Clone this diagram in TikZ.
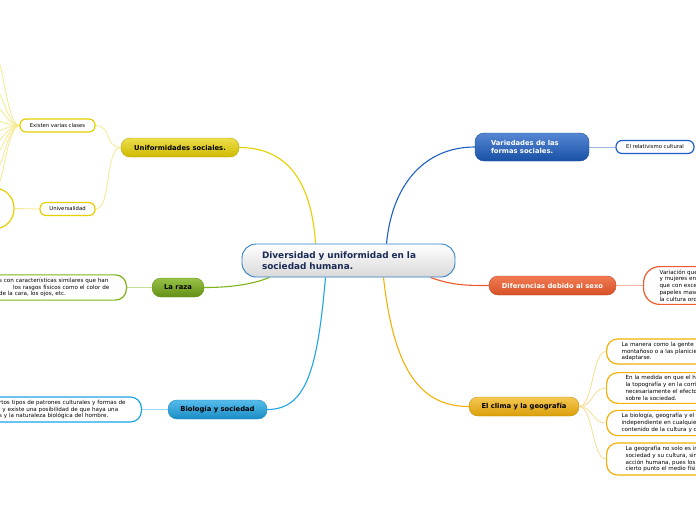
\documentclass[tikz,border=0pt]{standalone}
\usepackage{fontspec}
\setmainfont{DejaVu Sans}
\usetikzlibrary{positioning, backgrounds}
\definecolor{mmYellow}{HTML}{E6CF00}
\definecolor{mmGreen}{HTML}{7DB31A}
\definecolor{mmSky}{HTML}{1EA5E6}
\definecolor{mmBlue}{HTML}{1D5FC4}
\definecolor{mmRed}{HTML}{EE5A2A}
\definecolor{mmAmber}{HTML}{F2B10A}
\definecolor{mmNavy}{HTML}{1B2B55}
\definecolor{mmEdge}{HTML}{2E7FC6}

\begin{document}
\begin{tikzpicture}[
  x=1pt, y=-1pt,
  topic/.style={rounded corners=9pt, minimum height=19pt, inner sep=0pt,
                font=\bfseries\fontsize{6.8}{8.4}\selectfont, align=left},
  leaf/.style={draw=#1, fill=white, line width=1.2pt, rounded corners=6pt,
               minimum height=13pt, inner sep=0pt, font=\fontsize{5.3}{6.5}\selectfont},
  note/.style={draw=#1, fill=white, line width=1.2pt, rounded corners=11pt,
               inner ysep=3pt, align=left, font=\fontsize{5.6}{6.8}\selectfont},
  branch/.style={draw=#1, line width=1.1pt},
  twig/.style={draw=#1!45, line width=0.8pt},
]
  \useasboundingbox (0,0) rectangle (696,520);
  \clip (0,0) rectangle (696,520);

  % central topic
  \node[draw=mmEdge, line width=0.9pt, rounded corners=14pt, top color=white,
        bottom color=gray!30, minimum width=213pt, minimum height=33pt,
        inner xsep=20pt, text width=173pt, align=left, text=mmNavy,
        font=\bfseries\fontsize{8.9}{11}\selectfont]
        (cent) at (348.5,260.5) {Diversidad y uniformidad en la\\sociedad humana.};

  % main topics
  \node[topic, draw=mmYellow!80!black, top color=mmYellow!70, bottom color=mmYellow!90!black,
        minimum width=118pt] (uni) at (180,147.5) {Uniformidades sociales.};
  \node[topic, draw=mmGreen!80!black, top color=mmGreen!80, bottom color=mmGreen!80!black,
        minimum width=52pt] (raza) at (178,287.5) {La raza};
  \node[topic, draw=mmSky!80!black, top color=mmSky!75, bottom color=mmSky!85!black,
        minimum width=99pt] (bio) at (217.5,409.5) {Biología y sociedad};
  \node[topic, draw=mmBlue!80!black, top color=mmBlue!75, bottom color=mmBlue!85!black,
        text=white, minimum height=28pt, inner xsep=16pt, text width=82pt]
        (var) at (532,147) {Variedades de las\\formas sociales.};
  \node[topic, draw=mmRed!80!black, top color=mmRed!80, bottom color=mmRed!90!black,
        text=white, minimum width=127pt] (sexo) at (552.5,285.5) {Diferencias debido al sexo};
  \node[topic, draw=mmAmber!80!black, top color=mmAmber!70, bottom color=mmAmber!90!black,
        minimum width=110pt] (clima) at (524,406.5) {El clima y la geografía};

  % leaves
  \node[leaf=mmYellow, minimum width=75pt] (cls) at (57.5,125.5) {Existen varias clases};
  \node[leaf=mmYellow, minimum width=55pt] (univ) at (67.5,209) {Universalidad};
  \node[draw=mmYellow, fill=white, line width=1.2pt, rounded corners=20pt,
        minimum width=90pt, minimum height=41pt] (unisub) at (-31,208.5) {};
  \node[leaf=mmBlue, minimum width=78pt] (rel) at (655,147) {El relativismo cultural};

  % notes
  \node[note=mmGreen, anchor=east, text width=140pt] (razatxt) at (127,287.5)
    {\hspace*{16pt}s con características similares que han\\\hspace*{30pt}los rasgos físicos como el color de\\\hspace*{16pt}de la cara, los ojos, etc.};
  \node[note=mmSky, anchor=east, text width=150pt] (biotxt) at (142,409.5)
    {\hspace*{11pt}rtos tipos de patrones culturales y formas de\\\hspace*{11pt}l y existe una posibilidad de que haya una\\\hspace*{11pt}s y la naturaleza biológica del hombre.};
  \node[note=mmRed, anchor=west, rounded corners=16pt, inner xsep=16pt, text width=90pt]
    (sexotxt) at (643,285.5)
    {Variación que\\y mujeres en\\que con exce\\papeles masc\\la cultura ord};
  \node[note=mmAmber, anchor=west, inner xsep=15pt, text width=100pt] (clima1) at (606,351.5)
    {La manera como la gente r\\montañoso o a las planicies\\adaptarse.};
  \node[note=mmAmber, anchor=west, inner xsep=19pt, text width=100pt] (clima2) at (606,388)
    {En la medida en que el ho\\la topografía y en la corrie\\necesariamente el efecto\\sobre la sociedad.};
  \node[note=mmAmber, anchor=west, inner xsep=15pt, text width=100pt] (clima3) at (606,423)
    {La biología, geografía y el c\\independiente en cualquier\\contenido de la cultura y de};
  \node[note=mmAmber, anchor=west, inner xsep=19pt, text width=100pt] (clima4) at (606,459)
    {La geografía no solo es in\\sociedad y su cultura, sin\\acción humana, pues los\\cierto punto el medio físic};

  \begin{scope}[on background layer]
  % branches from the centre
  \draw[branch=mmYellow] ([xshift=-33pt]cent.north) .. controls +(-4,-62) and +(48,0) .. (uni.east);
  \draw[branch=mmGreen] ([xshift=28pt]cent.south west) .. controls +(-20,8) and +(22,0) .. (raza.east);
  \draw[branch=mmSky] ([xshift=-23pt]cent.south) .. controls +(-8,90) and +(40,0) .. (bio.east);
  \draw[branch=mmBlue] ([xshift=38pt]cent.north) .. controls +(6,-62) and +(-48,0) .. (var.west);
  \draw[branch=mmRed] ([xshift=-25pt]cent.south east) .. controls +(22,8) and +(-22,0) .. (sexo.west);
  \draw[branch=mmAmber] ([xshift=35pt]cent.south) .. controls +(10,90) and +(-50,0) .. (clima.west);

  % twigs
  \draw[twig=mmYellow] (uni.west) .. controls +(-16,0) and +(16,0) .. (cls.east);
  \draw[twig=mmYellow] (uni.west) .. controls +(-16,0) and +(16,0) .. (univ.east);
  \draw[twig=mmYellow] (univ.west) -- (unisub.east);
  \foreach \yy [count=\i] in {60,92,108,121,131,141,152,168,186} {
    \coordinate (clsend\i) at (-3,\yy);
    \draw[twig=mmYellow] (cls.west) .. controls +(-12,0) and +(6,0) .. (clsend\i);
  }
  \draw[twig=mmGreen] (raza.west) -- (razatxt.east);
  \draw[twig=mmSky] (bio.west) -- (biotxt.east);
  \draw[twig=mmBlue] (var.east) -- (rel.west);
  \draw[twig=mmRed] (sexo.east) -- (sexotxt.west);
  \foreach \k in {1,...,4}
    \draw[twig=mmAmber] (clima.east) .. controls +(14,0) and +(-14,0) .. (clima\k.west);
  \end{scope}
\end{tikzpicture}
\end{document}
